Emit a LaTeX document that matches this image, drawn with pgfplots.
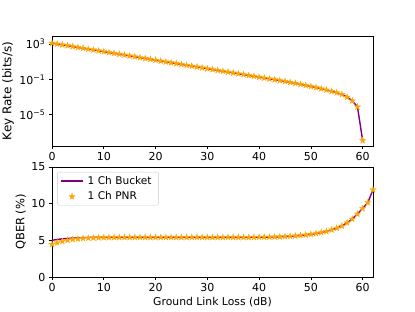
\documentclass[border=0pt]{standalone}
\usepackage{pgfplots}
\pgfplotsset{compat=1.18}
\usepackage{fontspec}
\setmainfont{DejaVu Sans}
\definecolor{mpurple}{HTML}{800080}
\definecolor{morange}{HTML}{FFA500}
\pgfdeclareplotmark{fstar}{%
  \pgfpathmoveto{\pgfpointpolar{90}{\pgfplotmarksize}}%
  \pgfpathlineto{\pgfpointpolar{126}{0.382\pgfplotmarksize}}%
  \pgfpathlineto{\pgfpointpolar{162}{\pgfplotmarksize}}%
  \pgfpathlineto{\pgfpointpolar{198}{0.382\pgfplotmarksize}}%
  \pgfpathlineto{\pgfpointpolar{234}{\pgfplotmarksize}}%
  \pgfpathlineto{\pgfpointpolar{270}{0.382\pgfplotmarksize}}%
  \pgfpathlineto{\pgfpointpolar{306}{\pgfplotmarksize}}%
  \pgfpathlineto{\pgfpointpolar{342}{0.382\pgfplotmarksize}}%
  \pgfpathlineto{\pgfpointpolar{18}{\pgfplotmarksize}}%
  \pgfpathlineto{\pgfpointpolar{54}{0.382\pgfplotmarksize}}%
  \pgfpathclose
  \pgfusepathqfillstroke}
\pgfplotsset{
  common/.style={
    scale only axis, width=321pt, height=110pt,
    xmin=0, xmax=62,
    xtick={0,10,20,30,40,50,60},
    tick align=outside, major tick length=3.15pt,
    axis line style={line width=0.7pt},
    every tick/.style={line width=0.7pt, black},
    tick label style={font=\fontsize{11}{13}\selectfont},
    label style={font=\fontsize{10.8}{12}\selectfont},
    /pgf/number format/assume math mode=true,
    xtick pos=bottom, ytick pos=left,
  },
  bucket/.style={mpurple, line width=1.4pt, no marks},
  pnr/.style={only marks, mark=fstar, mark size=3.3pt, mark options={fill=morange, draw=morange, line width=0.3pt}},
}
\begin{document}
\begin{tikzpicture}
\useasboundingbox (0pt,0pt) rectangle (415pt,311pt);
\begin{axis}[common, at={(52pt,165pt)}, anchor=south west,
  ymode=log, ymin=3e-9, ymax=8e3,
  ytick={1e3,1e-1,1e-5},
  yticklabels={10\textsuperscript{3},10\textsuperscript{−1},10\textsuperscript{−5}},
  yminorticks=false,
  ylabel={Key Rate (bits/s)},
  ylabel style={at={(axis description cs:-0.137,0.5)}, anchor=center, font=\fontsize{12}{14}\selectfont},
]
\addplot[bucket] coordinates {
(0,1.259e3)(1,1.009e3)(2,8.091e2)(3,6.486e2)(4,5.200e2)(5,4.169e2)(6,3.342e2)(7,2.679e2)(8,2.148e2)(9,1.722e2)
(10,1.380e2)(11,1.107e2)(12,8.872e1)(13,7.112e1)(14,5.702e1)(15,4.571e1)(16,3.664e1)(17,2.938e1)(18,2.355e1)(19,1.888e1)
(20,1.514e1)(21,1.213e1)(22,9.727)(23,7.798)(24,6.252)(25,5.012)(26,4.018)(27,3.221)(28,2.582)(29,2.070)
(30,1.660)(31,1.330)(32,1.067)(33,8.551e-1)(34,6.855e-1)(35,5.495e-1)(36,4.406e-1)(37,3.532e-1)(38,2.831e-1)(39,2.270e-1)
(40,1.820e-1)(41,1.459e-1)(42,1.169e-1)(43,9.376e-2)(44,7.516e-2)(45,6.026e-2)(46,4.721e-2)(47,3.698e-2)(48,2.831e-2)(49,2.168e-2)
(50,1.622e-2)(51,1.213e-2)(52,8.872e-3)(53,6.486e-3)(54,4.634e-3)(55,3.162e-3)(56,2.014e-3)(57,1.019e-3)(58,3.819e-4)(59,7.870e-5)
(60,1.259e-8)};
\addplot[pnr] coordinates {
(0,1.259e3)(1,1.009e3)(2,8.091e2)(3,6.486e2)(4,5.200e2)(5,4.169e2)(6,3.342e2)(7,2.679e2)(8,2.148e2)(9,1.722e2)
(10,1.380e2)(11,1.107e2)(12,8.872e1)(13,7.112e1)(14,5.702e1)(15,4.571e1)(16,3.664e1)(17,2.938e1)(18,2.355e1)(19,1.888e1)
(20,1.514e1)(21,1.213e1)(22,9.727)(23,7.798)(24,6.252)(25,5.012)(26,4.018)(27,3.221)(28,2.582)(29,2.070)
(30,1.660)(31,1.330)(32,1.067)(33,8.551e-1)(34,6.855e-1)(35,5.495e-1)(36,4.406e-1)(37,3.532e-1)(38,2.831e-1)(39,2.270e-1)
(40,1.820e-1)(41,1.459e-1)(42,1.169e-1)(43,9.376e-2)(44,7.516e-2)(45,6.026e-2)(46,4.721e-2)(47,3.698e-2)(48,2.831e-2)(49,2.168e-2)
(50,1.622e-2)(51,1.213e-2)(52,8.872e-3)(53,6.486e-3)(54,4.634e-3)(55,3.162e-3)(56,2.014e-3)(57,1.019e-3)(58,3.819e-4)(59,7.870e-5)
(60,1.259e-8)};
\end{axis}
\begin{axis}[common, at={(52pt,34pt)}, anchor=south west,
  ymin=0, ymax=15, ytick={0,5,10,15},
  ylabel={QBER (\%)},
  ylabel style={at={(axis description cs:-0.097,0.5)}, anchor=center, font=\fontsize{11.5}{13}\selectfont},
  xlabel={Ground Link Loss (dB)},
  xlabel style={at={(axis description cs:0.5,-0.227)}, anchor=center},
  legend style={at={(0.016,0.955)}, anchor=north west, font=\fontsize{10.6}{12}\selectfont,
    draw=black!20, rounded corners=2pt, inner xsep=3pt, inner ysep=3pt, row sep=4pt,
    nodes={inner xsep=4pt, inner ysep=1pt}},
  legend cell align=left,
]
\addplot[bucket, legend image code/.code={\draw[mpurple, line width=1.4pt] (0pt,0pt) -- (22pt,0pt);}] coordinates {
(0,5.00)(1,5.12)(2,5.20)(3,5.26)(4,5.31)(5,5.34)(6,5.37)(7,5.39)(8,5.40)(9,5.40)
(10,5.41)(12,5.41)(14,5.41)(16,5.41)(18,5.41)(20,5.41)(22,5.41)(24,5.41)(26,5.41)(28,5.41)
(30,5.41)(32,5.41)(34,5.41)(36,5.41)(38,5.41)(39,5.42)(40,5.43)(41,5.44)(42,5.45)(43,5.47)(44,5.49)
(45,5.52)(46,5.56)(47,5.61)(48,5.67)(49,5.74)(50,5.83)(51,5.94)(52,6.07)(53,6.23)(54,6.43)
(55,6.67)(56,6.96)(57,7.40)(58,7.90)(59,8.60)(60,9.35)(61,10.15)(62,11.9)};
\addlegendentry{1 Ch Bucket}
\addplot[pnr, legend image code/.code={\draw[mark=fstar, mark size=3.3pt, fill=morange, draw=morange, line width=0.3pt] plot coordinates {(11pt,0pt)};}] coordinates {
(0,4.45)(1,4.68)(2,4.87)(3,5.02)(4,5.13)(5,5.21)(6,5.27)(7,5.31)(8,5.34)(9,5.36)
(10,5.38)(11,5.39)(12,5.40)(13,5.41)(14,5.41)(15,5.41)(16,5.41)(17,5.41)(18,5.41)(19,5.41)
(20,5.41)(21,5.41)(22,5.41)(23,5.41)(24,5.41)(25,5.41)(26,5.41)(27,5.41)(28,5.41)(29,5.41)
(30,5.41)(31,5.41)(32,5.41)(33,5.41)(34,5.41)(35,5.41)(36,5.41)(37,5.41)(38,5.41)(39,5.42)
(40,5.43)(41,5.44)(42,5.45)(43,5.47)(44,5.49)(45,5.52)(46,5.56)(47,5.61)(48,5.67)(49,5.74)
(50,5.83)(51,5.94)(52,6.07)(53,6.23)(54,6.43)(55,6.67)(56,6.96)(57,7.40)(58,7.90)(59,8.60)
(60,9.35)(61,10.15)(62,11.9)};
\addlegendentry{1 Ch PNR}
\end{axis}
\end{tikzpicture}
\end{document}
